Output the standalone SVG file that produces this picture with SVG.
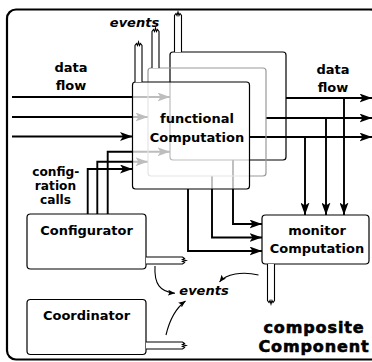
<svg xmlns="http://www.w3.org/2000/svg" width="372" height="362" viewBox="0 0 372 362">
<style>
text{font-family:"DejaVu Sans","Liberation Sans",sans-serif;font-weight:bold;font-size:13px;fill:#000;text-anchor:middle}
.it{font-style:italic}
.cfg{font-size:12.2px}
.big{font-size:16px;letter-spacing:0.9px;stroke:#000;stroke-width:0.6}
.c{fill:none;stroke:#000;stroke-width:1.9}
.cv{fill:none;stroke:#000;stroke-width:1.1}
.box{fill:#fff;stroke:#000;stroke-width:1.2}
.port{fill:#fff;stroke:#000;stroke-width:1.1}
</style>
<defs>
<marker id="arr" markerUnits="userSpaceOnUse" markerWidth="13" markerHeight="9" refX="12.5" refY="4.5" orient="auto">
<path d="M0,0 L12.5,4.5 L0,9 L3,4.5 z" fill="#000"/>
</marker>
<marker id="sarr" markerUnits="userSpaceOnUse" markerWidth="8" markerHeight="6" refX="7" refY="3" orient="auto">
<path d="M0,0 L7,3 L0,6 L1.5,3 z" fill="#000"/>
</marker>
<path id="portShape" d="M0,39 V2.5 L1.5,0.5 L2.5,2.5 L3.5,-1 L4.5,2.5 L5.5,0.5 L7,2.5 V39"/>
</defs>

<g id="frame">
<rect x="7" y="9.5" width="372" height="350" rx="9" fill="none" stroke="#000" stroke-width="2.2"/>
</g>

<g id="connectors">
<path class="c" d="M12,97 H170" marker-end="url(#arr)"/>
<path class="c" d="M12,117 H148" marker-end="url(#arr)"/>
<path class="c" d="M12,136.5 H132.5" marker-end="url(#arr)"/>
<path class="c" d="M107.7,214 V151.7 H170" marker-end="url(#arr)"/>
<path class="c" d="M97.3,214 V161.7 H148" marker-end="url(#arr)"/>
<path class="c" d="M87.7,214 V169 H132.5" marker-end="url(#arr)"/>
<path class="c" d="M286,98 H372" marker-end="url(#arr)"/>
<path class="c" d="M266,118 H372" marker-end="url(#arr)"/>
<path class="c" d="M249.5,137 H372" marker-end="url(#arr)"/>
<path class="c" d="M344,98 V215" marker-end="url(#arr)"/>
<path class="c" d="M326,118 V215" marker-end="url(#arr)"/>
<path class="c" d="M305,137 V215" marker-end="url(#arr)"/>
<path class="c" d="M233,160 V224 H262" marker-end="url(#arr)"/>
<path class="c" d="M212,176 V237.5 H262" marker-end="url(#arr)"/>
<path class="c" d="M188,189 V251 H262" marker-end="url(#arr)"/>
<path class="cv" d="M155,266 C154,284 160,292 175,293.3" marker-end="url(#sarr)"/>
<path class="cv" d="M166,335 C170,318 176,308 185.5,301" marker-end="url(#sarr)"/>
<path class="cv" d="M258.5,275 C242,271 226,274 219.5,282" marker-end="url(#sarr)"/>
</g>

<g id="fc-back">
<rect x="170" y="52" width="116" height="108" rx="3" fill="none" stroke="#000" stroke-width="1.2"/>
<use href="#portShape" class="port" transform="translate(174.5,13)"/>
</g>
<g id="fc-middle">
<rect x="148" y="68" width="118" height="108" rx="3" fill="none" stroke="#999" stroke-width="1.2"/>
<use href="#portShape" class="port" transform="translate(152,29)"/>
</g>
<g id="fc-front">
<rect x="132.5" y="82" width="117" height="107" rx="3" fill="#fff" fill-opacity="0.74" stroke="#000" stroke-width="1.2"/>
<use href="#portShape" class="port" transform="translate(135,43)"/>
<text x="197" y="123">functional</text>
<text x="197" y="142">Computation</text>
</g>

<g id="monitor">
<rect class="box" x="262" y="215" width="107" height="49" rx="3.5"/>
<use href="#portShape" class="port" transform="translate(274.5,303) rotate(180)"/>
<text x="317" y="235">monitor</text>
<text x="317" y="252.5">Computation</text>
</g>

<g id="configurator">
<rect class="box" x="27" y="214" width="119" height="55" rx="3.5"/>
<use href="#portShape" class="port" transform="translate(185,257) rotate(90)"/>
<text x="86.5" y="234.5">Configurator</text>
</g>

<g id="coordinator">
<rect class="box" x="27" y="299.5" width="119" height="55" rx="3.5"/>
<use href="#portShape" class="port" transform="translate(185,342) rotate(90)"/>
<text x="86.5" y="320">Coordinator</text>
</g>

<g id="labels">
<text class="it" x="134.5" y="27">events</text>
<text class="it" x="204" y="295">events</text>
<text x="71" y="72">data</text>
<text x="71" y="90">flow</text>
<text x="333" y="74">data</text>
<text x="333" y="92">flow</text>
<text class="cfg" x="55.8" y="175.5">config-</text>
<text class="cfg" x="55.5" y="189.5">ration</text>
<text class="cfg" x="55.5" y="203.5">calls</text>
<text class="big" x="314" y="332.5">composite</text>
<text class="big" x="314" y="352">Component</text>
</g>
</svg>
